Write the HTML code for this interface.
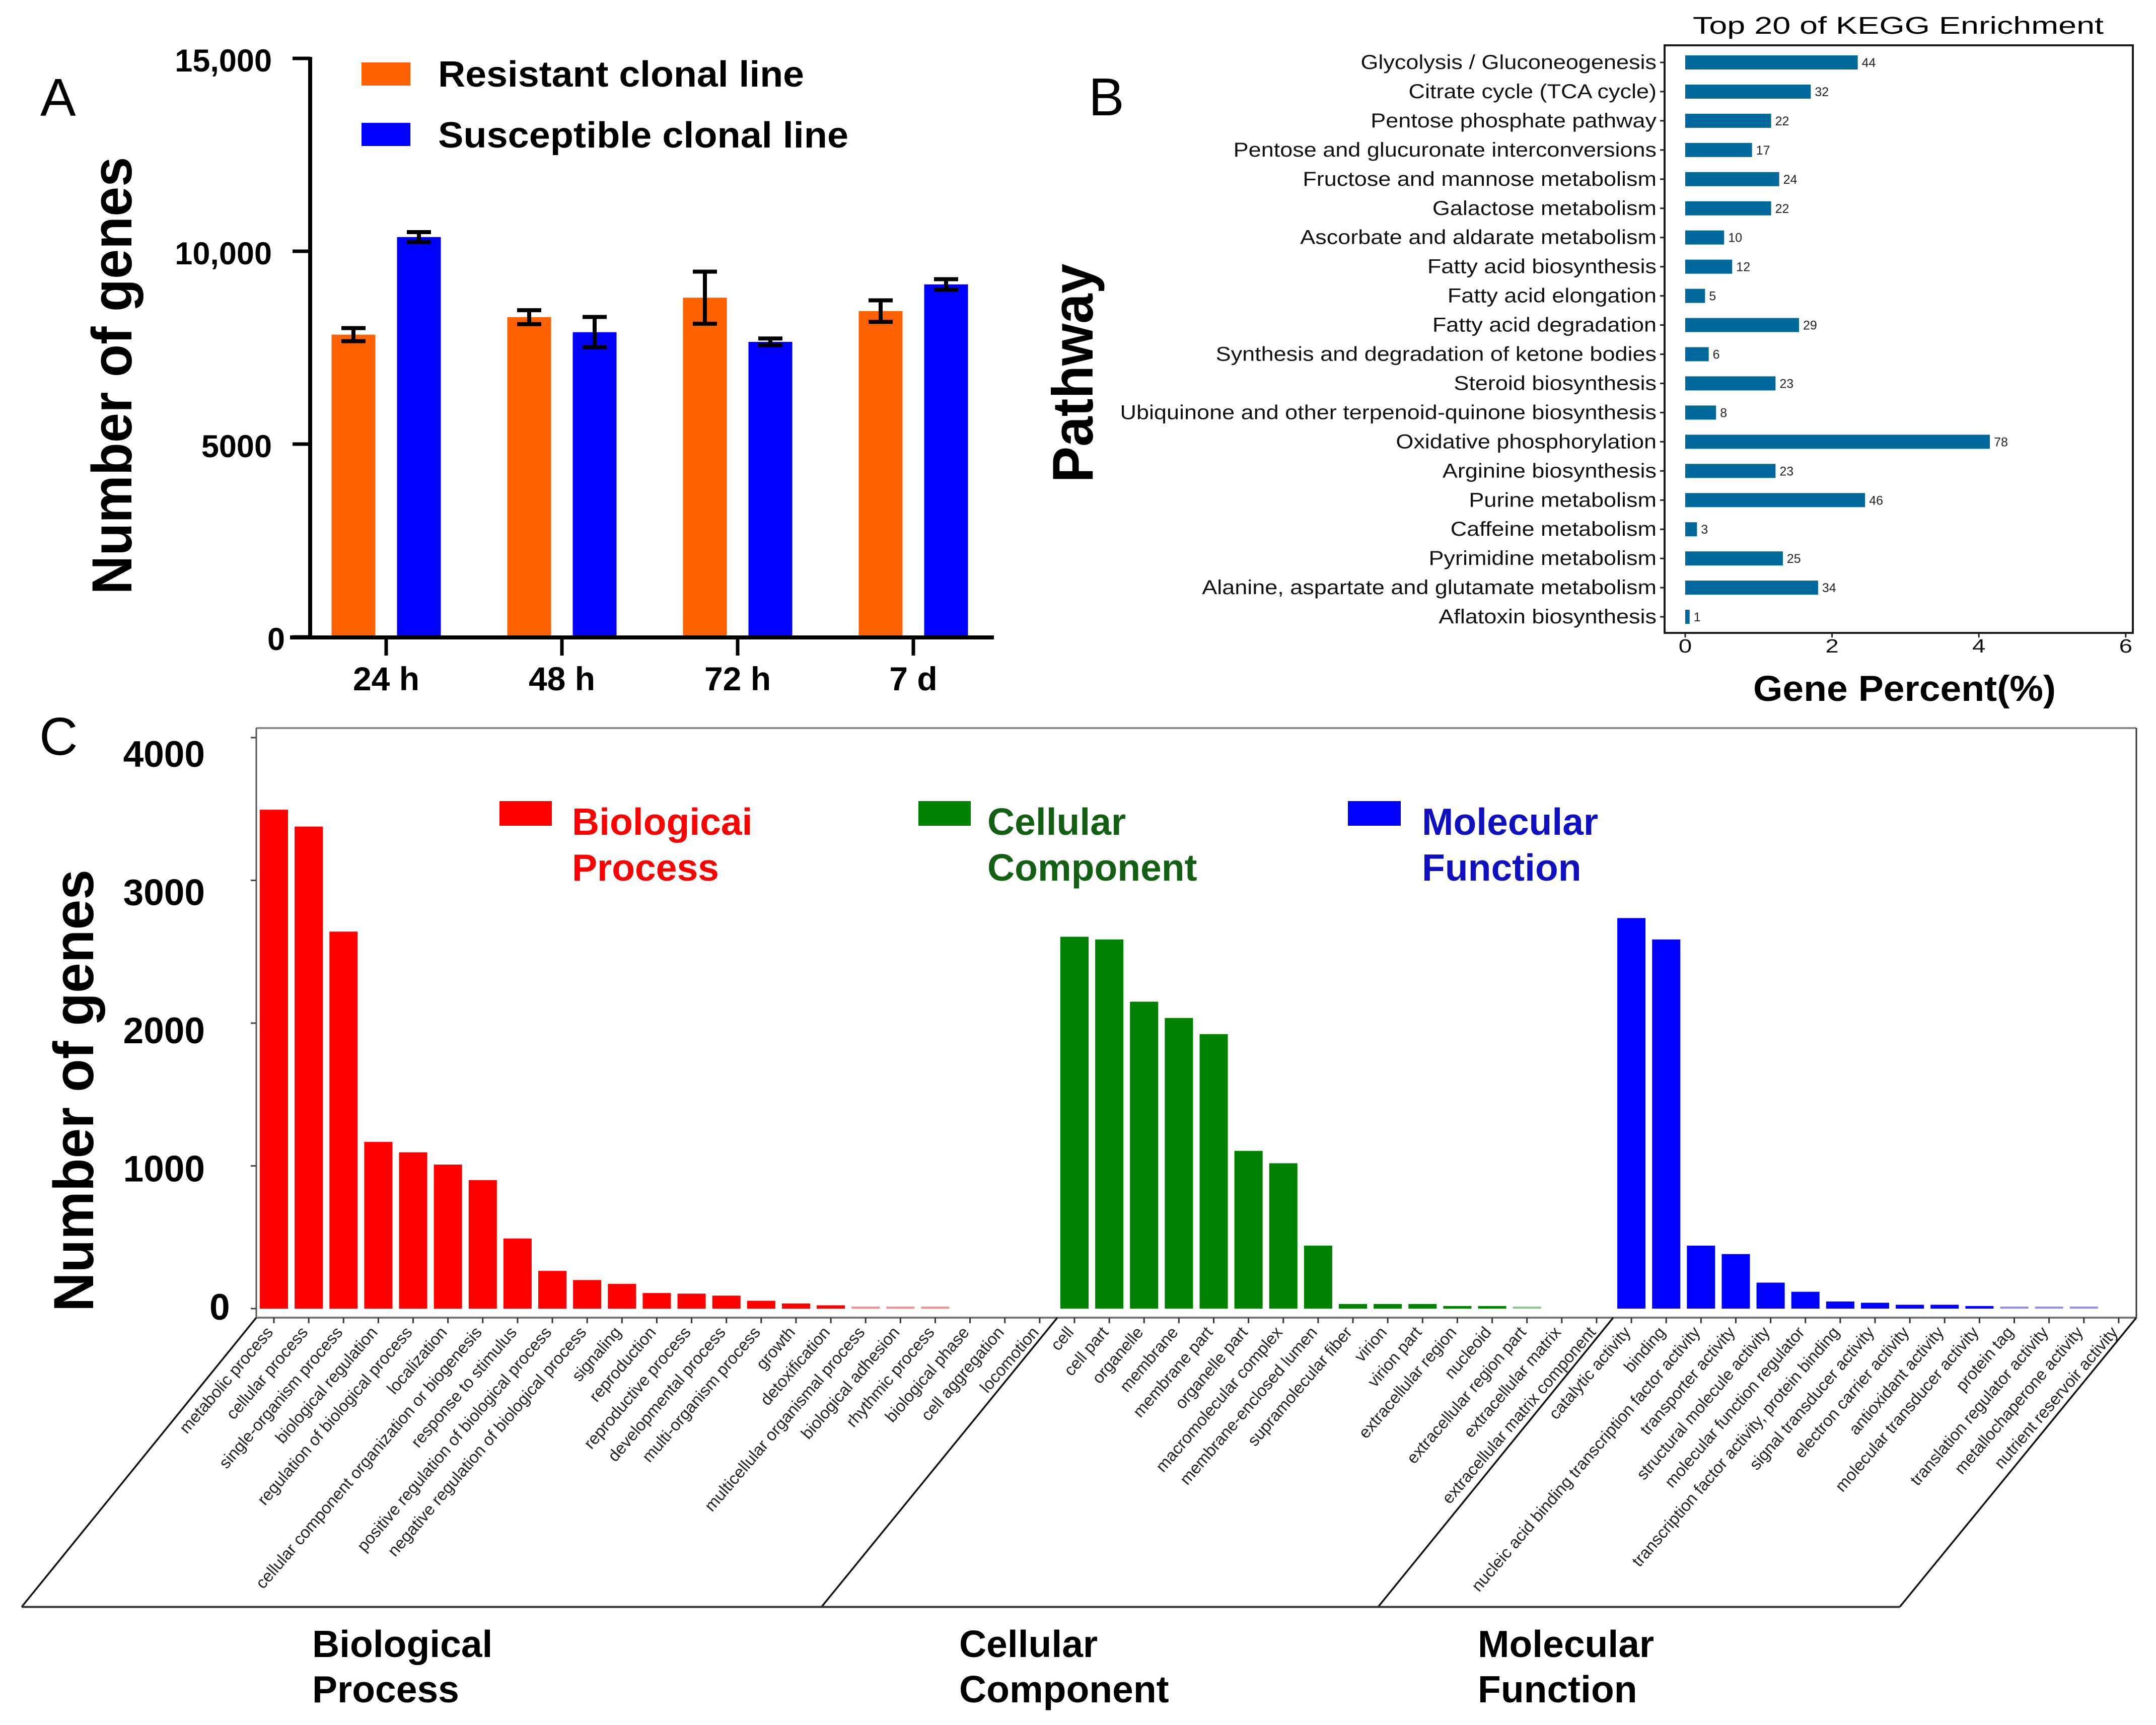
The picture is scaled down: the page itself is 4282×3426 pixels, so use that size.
<!DOCTYPE html>
<html lang="en">
<head>
<meta charset="utf-8">
<title>Gene expression and enrichment figure</title>
<style>
html,body{margin:0;padding:0;background:#fff;}
svg{display:block;font-family:"Liberation Sans",Arial,sans-serif;}
</style>
</head>
<body>
<svg id="fig" xmlns="http://www.w3.org/2000/svg" width="4282" height="3426" viewBox="0 0 4282 3426">
<rect width="4282" height="3426" fill="#fff"/>

<!-- Panel letters -->
<text x="80" y="230" font-size="106">A</text>
<text x="2162" y="229" font-size="106">B</text>
<text x="78" y="1499" font-size="106">C</text>

<!-- Panel A static -->
<g>
  <text transform="translate(261,746) rotate(-90) scale(0.95,1)" text-anchor="middle" font-size="112" font-weight="700">Number of genes</text>
  <rect x="718" y="124" width="97" height="46" fill="#ff6100"/>
  <rect x="718" y="244" width="97" height="46" fill="#0000ff"/>
  <text x="870" y="172" font-size="72" font-weight="700" textLength="727" lengthAdjust="spacingAndGlyphs">Resistant clonal line</text>
  <text x="870" y="293" font-size="72" font-weight="700" textLength="815" lengthAdjust="spacingAndGlyphs">Susceptible clonal line</text>
  <g id="a-marks"></g>
</g>

<!-- Panel B static -->
<g>
  <text x="3362" y="67" font-size="48" textLength="816" lengthAdjust="spacingAndGlyphs">Top 20 of KEGG Enrichment</text>
  <text transform="translate(2170,741) rotate(-90) scale(0.94,1)" text-anchor="middle" font-size="114" font-weight="700">Pathway</text>
  <text x="3482" y="1392" font-size="71" font-weight="700" textLength="601" lengthAdjust="spacingAndGlyphs">Gene Percent(%)</text>
  <g id="b-marks"></g>
  <rect x="3306" y="90" width="930" height="1167" fill="none" stroke="#1a1a1a" stroke-width="4"/>
</g>

<!-- Panel C static -->
<g>
  <text transform="translate(185,2166) rotate(-90) scale(0.96,1)" text-anchor="middle" font-size="112" font-weight="700">Number of genes</text>

  <path d="M509 1446H4243" stroke="#8a8a8a" stroke-width="4" fill="none"/>
  <path d="M509 1446V2617" stroke="#555" stroke-width="3" fill="none"/>
  <path d="M4243 1446V2617" stroke="#333" stroke-width="3" fill="none"/>
  <path d="M509 2617H4243" stroke="#777" stroke-width="4" fill="none"/>
  <path d="M509 2617L43 3191.5" stroke="#111" stroke-width="3.5" fill="none"/>
  <path d="M2100 2617L1631.5 3191.5" stroke="#111" stroke-width="3.5" fill="none"/>
  <path d="M3204 2617L2737 3191.5" stroke="#111" stroke-width="3.5" fill="none"/>
  <path d="M4243 2617L3773 3191.5" stroke="#111" stroke-width="3.5" fill="none"/>
  <path d="M43 3191.5H3773" stroke="#333" stroke-width="4" fill="none"/>

  <rect x="992" y="1591" width="104" height="49" fill="#ff0000"/>
  <text x="1136" y="1658" font-size="75" font-weight="700" fill="#ff0000">Biologicai</text>
  <text x="1136" y="1749" font-size="75" font-weight="700" fill="#ff0000">Process</text>
  <rect x="1824" y="1591" width="104" height="49" fill="#008000"/>
  <text x="1961" y="1658" font-size="75" font-weight="700" fill="#135f13">Cellular</text>
  <text x="1961" y="1749" font-size="75" font-weight="700" fill="#135f13">Component</text>
  <rect x="2677" y="1591" width="105" height="49" fill="#0000ff"/>
  <text x="2824" y="1658" font-size="75" font-weight="700" fill="#1010c0">Molecular</text>
  <text x="2824" y="1749" font-size="75" font-weight="700" fill="#1010c0">Function</text>

  <text x="620" y="3291" font-size="75" font-weight="700">Biological</text>
  <text x="620" y="3381" font-size="75" font-weight="700">Process</text>
  <text x="1905" y="3291" font-size="75" font-weight="700">Cellular</text>
  <text x="1905" y="3381" font-size="75" font-weight="700">Component</text>
  <text x="2935" y="3291" font-size="75" font-weight="700">Molecular</text>
  <text x="2935" y="3381" font-size="75" font-weight="700">Function</text>
  <g id="c-marks"></g>
</g>
</svg>

<script>
// ---------- Panel A data ----------
const aCategories = ['24 h', '48 h', '72 h', '7 d'];
const aResistant = [7838, 8291, 8797, 8448];
const aResistantErr = [170, 180, 675, 279];
const aSusceptible = [10368, 7901, 7651, 9141];
const aSusceptibleErr = [128, 395, 87, 134];
const aTicks = [0, 5000, 10000, 15000];
const aTickLabels = ['0', '5000', '10,000', '15,000'];

// ---------- Panel B data ----------
const bPathways = ['Glycolysis / Gluconeogenesis', 'Citrate cycle (TCA cycle)', 'Pentose phosphate pathway', 'Pentose and glucuronate interconversions', 'Fructose and mannose metabolism', 'Galactose metabolism', 'Ascorbate and aldarate metabolism', 'Fatty acid biosynthesis', 'Fatty acid elongation', 'Fatty acid degradation', 'Synthesis and degradation of ketone bodies', 'Steroid biosynthesis', 'Ubiquinone and other terpenoid-quinone biosynthesis', 'Oxidative phosphorylation', 'Arginine biosynthesis', 'Purine metabolism', 'Caffeine metabolism', 'Pyrimidine metabolism', 'Alanine, aspartate and glutamate metabolism', 'Aflatoxin biosynthesis'];
const bPercent = [2.35, 1.71, 1.17, 0.91, 1.28, 1.17, 0.53, 0.64, 0.27, 1.55, 0.32, 1.23, 0.42, 4.15, 1.23, 2.45, 0.16, 1.33, 1.81, 0.06];
const bCounts = [44, 32, 22, 17, 24, 22, 10, 12, 5, 29, 6, 23, 8, 78, 23, 46, 3, 25, 34, 1];
const bTicks = [0, 2, 4, 6];

// ---------- Panel C data ----------
const cBioCategories = ['metabolic process', 'cellular process', 'single-organism process', 'biological regulation', 'regulation of biological process', 'localization', 'cellular component organization or biogenesis', 'response to stimulus', 'positive regulation of biological process', 'negative regulation of biological process', 'signaling', 'reproduction', 'reproductive process', 'developmental process', 'multi-organism process', 'growth', 'detoxification', 'multicellular organismal process', 'biological adhesion', 'rhythmic process', 'biological phase', 'cell aggregation', 'locomotion'];
const cBioValues = [3495, 3377, 2641, 1168, 1095, 1009, 900, 491, 264, 200, 173, 109, 105, 91, 55, 36, 23, 9, 5, 5, 0, 0, 0];
const cCellCategories = ['cell', 'cell part', 'organelle', 'membrane', 'membrane part', 'organelle part', 'macromolecular complex', 'membrane-enclosed lumen', 'supramolecular fiber', 'virion', 'virion part', 'extracellular region', 'nucleoid', 'extracellular region part', 'extracellular matrix', 'extracellular matrix component'];
const cCellValues = [2605, 2586, 2150, 2036, 1923, 1105, 1018, 441, 32, 32, 32, 18, 18, 7, 0, 0];
const cMolCategories = ['catalytic activity', 'binding', 'nucleic acid binding transcription factor activity', 'transporter activity', 'structural molecule activity', 'molecular function regulator', 'transcription factor activity, protein binding', 'signal transducer activity', 'electron carrier activity', 'antioxidant activity', 'molecular transducer activity', 'protein tag', 'translation regulator activity', 'metallochaperone activity', 'nutrient reservoir activity'];
const cMolValues = [2736, 2586, 441, 382, 182, 118, 50, 41, 27, 27, 18, 9, 7, 7, 0];
const cTicks = [0, 1000, 2000, 3000, 4000];

const NS = 'http://www.w3.org/2000/svg';
function mk(parent, tag, attrs, txt) {
  const el = document.createElementNS(NS, tag);
  for (const k in attrs) el.setAttribute(k, attrs[k]);
  if (txt !== undefined) el.textContent = txt;
  parent.appendChild(el);
  return el;
}

// ---------- Panel A ----------
const aRoot = document.getElementById('a-marks');
const yA = v => 1265 - v * (1265 - 116) / 15000;
const xA = i => 767 + i * 349;
const A_OFF = 65, A_W = 87;

function drawBarA(i, val, err, side, color, label) {
  const cx = xA(i) + side * A_OFF;
  const bar = mk(aRoot, 'rect', {x: cx - A_W / 2, y: yA(val), width: A_W, height: yA(0) - yA(val), fill: color});
  
  
  const e = mk(aRoot, 'path', {
    d: 'M' + cx + ' ' + yA(val + err) + 'V' + yA(val - err) +
       'M' + (cx - 24) + ' ' + yA(val + err) + 'H' + (cx + 24) +
       'M' + (cx - 24) + ' ' + yA(val - err) + 'H' + (cx + 24),
    stroke: '#000', 'stroke-width': 8, fill: 'none'
  });
  
  
}
aCategories.forEach((c, i) => {
  drawBarA(i, aResistant[i], aResistantErr[i], -1, '#ff6100', 'resistant');
  drawBarA(i, aSusceptible[i], aSusceptibleErr[i], 1, '#0000ff', 'susceptible');
  const t = mk(aRoot, 'line', {x1: xA(i), x2: xA(i), y1: 1265, y2: 1302, stroke: '#000', 'stroke-width': 7});
  
  
  const l = mk(aRoot, 'text', {x: xA(i), y: 1371, 'text-anchor': 'middle', 'font-size': 66, 'font-weight': 700}, c);
  
  
});
aTicks.forEach((v, i) => {
  const t = mk(aRoot, 'line', {x1: 581, x2: 616, y1: yA(v), y2: yA(v), stroke: '#000', 'stroke-width': 7});
  
  
  const l = mk(aRoot, 'text', {x: v === 0 ? 566 : 540, y: yA(v) + 26, 'text-anchor': 'end', 'font-size': 63, 'font-weight': 700}, aTickLabels[i]);
  
  
});
const aYAxis = mk(aRoot, 'line', {x1: 616, x2: 616, y1: 113, y2: 1268, stroke: '#000', 'stroke-width': 8});


const aXAxis = mk(aRoot, 'line', {x1: 576, x2: 1974, y1: 1266, y2: 1266, stroke: '#000', 'stroke-width': 8});



// ---------- Panel B ----------
const bRoot = document.getElementById('b-marks');
const xB = v => 3347 + v * 145.8;
const yB = i => 124 + i * 57.95;
bPathways.forEach((p, i) => {
  const bar = mk(bRoot, 'rect', {x: xB(0), y: yB(i) - 14, width: xB(bPercent[i]) - xB(0), height: 28, fill: '#00689b'});
  
  
  const t = mk(bRoot, 'line', {x1: 3297, x2: 3306, y1: yB(i), y2: yB(i), stroke: '#222', 'stroke-width': 3});
  
  
  const l = mk(bRoot, 'text', {transform: 'translate(3290,' + (yB(i) + 13) + ') scale(1.125,1)', 'text-anchor': 'end', 'font-size': 40, fill: '#111'}, p);
  
  
  const n = mk(bRoot, 'text', {x: xB(bPercent[i]) + 8, y: yB(i) + 9, 'font-size': 25, fill: '#222'}, String(bCounts[i]));
  
  
});
bTicks.forEach(v => {
  const t = mk(bRoot, 'line', {x1: xB(v), x2: xB(v), y1: 1257, y2: 1266, stroke: '#222', 'stroke-width': 3});
  
  
  const l = mk(bRoot, 'text', {transform: 'translate(' + xB(v) + ',1296) scale(1.25,1)', 'text-anchor': 'middle', 'font-size': 38, fill: '#111'}, String(v));
  
  
});

// ---------- Panel C ----------
const cRoot = document.getElementById('c-marks');
const yC = v => 2599 - v * 0.2835;
const xC = i => 544 + i * 69.13;
const labelYC = v => 2621 - v * 0.2745;
const C_W = 56;

function drawGroup(cats, vals, start, color, key) {
  cats.forEach((c, k) => {
    const i = start + k, v = vals[k];
    const t = mk(cRoot, 'line', {x1: xC(i), x2: xC(i), y1: 2617, y2: 2628, stroke: '#333', 'stroke-width': 3});
    
    
    const l = mk(cRoot, 'text', {transform: 'translate(' + xC(i) + ',2647) rotate(-49.5)', 'text-anchor': 'end', 'font-size': 33, fill: '#222'}, c);
    
    
    if (v > 0) {
      const h = Math.max(yC(0) - yC(v), 4);
      const bar = mk(cRoot, 'rect', {x: xC(i) - C_W / 2, y: yC(0) - h, width: C_W, height: h, fill: color, opacity: v < 10 ? 0.45 : 1});
      
      
    }
  });
}
drawGroup(cBioCategories, cBioValues, 0, '#ff0000', 'biological-process');
drawGroup(cCellCategories, cCellValues, cBioCategories.length, '#008000', 'cellular-component');
drawGroup(cMolCategories, cMolValues, cBioCategories.length + cCellCategories.length, '#0000ff', 'molecular-function');
cTicks.forEach(v => {
  const t = mk(cRoot, 'line', {x1: 498, x2: 509, y1: yC(v), y2: yC(v), stroke: '#444', 'stroke-width': 3});
  
  
  const l = mk(cRoot, 'text', {x: 407, y: labelYC(v), 'text-anchor': v === 0 ? 'start' : 'end', 'font-size': 73, 'font-weight': 700}, String(v));
  if (v === 0) l.setAttribute('x', 416);
  
  
});
</script>
</body>
</html>
